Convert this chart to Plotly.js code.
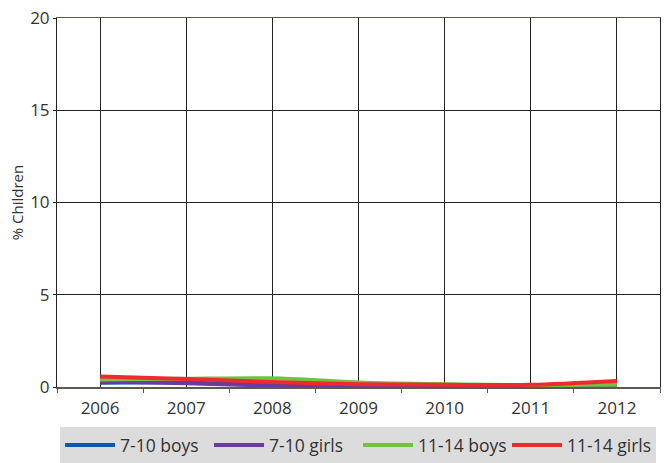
<!DOCTYPE html>
<html><head><meta charset="utf-8">
<script src="https://cdn.plot.ly/plotly-3.0.1.min.js"></script>
<style>html,body{margin:0;padding:0;background:#fff}</style>
</head><body>
<div id="chart" style="width:667px;height:463px"></div>
<script>
const years = [2006, 2007, 2008, 2009, 2010, 2011, 2012];
const seriesNames = ["7-10 boys", "7-10 girls", "11-14 boys", "11-14 girls"];
const boys7to10 = [0.23, 0.25, 0.10, 0.03, 0.02, 0.02, 0.05];
const girls7to10 = [0.30, 0.20, 0.08, 0.01, 0.01, 0.02, 0.05];
const boys11to14 = [0.40, 0.45, 0.47, 0.25, 0.15, 0.10, 0.12];
const girls11to14 = [0.57, 0.43, 0.27, 0.15, 0.12, 0.12, 0.33];
const colors = ["#0f58a8", "#6a3b9c", "#74c043", "#ee2a30"];
const yTicks = [0, 5, 10, 15, 20];

const allSeries = [boys7to10, girls7to10, boys11to14, girls11to14];
const traces = allSeries.map((vals, i) => ({
  x: years, y: vals, name: seriesNames[i], type: "scatter", mode: "lines",
  line: {color: colors[i], width: 4, shape: "spline", smoothing: 0.8},
  hoverinfo: "skip"
}));

const font = {family: "Open Sans, Noto Sans, sans-serif", color: "#333", size: 17};
const layout = {
  width: 667, height: 463,
  margin: {l: 57, r: 7, t: 18, b: 76},
  paper_bgcolor: "#fff", plot_bgcolor: "#fff",
  font: font,
  showlegend: true,
  xaxis: {
    type: "linear", range: [2005.5, 2012.5],
    tickvals: years, ticktext: years.map(String),
    ticks: "", showgrid: true, gridcolor: "#222", gridwidth: 1,
    showline: true, linecolor: "#5a5a50", linewidth: 1.5, mirror: true,
    zeroline: false, tickfont: {size: 17, color: "#333"},
    ticklabelstandoff: 5,
    minor: {tick0: 2005.5, dtick: 1, ticks: "outside", ticklen: 4, tickcolor: "#5a5a50", showgrid: false},
    fixedrange: true, automargin: false
  },
  yaxis: {
    range: [0, 20], tickvals: yTicks, ticktext: yTicks.map(String),
    ticks: "outside", ticklen: 3, tickcolor: "#222",
    showgrid: true, gridcolor: "#222", gridwidth: 1,
    showline: true, linecolor: "#222", linewidth: 1, mirror: true,
    zeroline: false, tickfont: {size: 17, color: "#333"},
    title: {text: "% Children", font: {size: 15, color: "#333"}, standoff: 2},
    fixedrange: true, automargin: false
  },
  legend: {
    orientation: "h", xref: "container", yref: "container",
    x: 0.09, xanchor: "left", y: -0.005, yanchor: "bottom",
    bgcolor: "#dcdcdd", borderwidth: 0,
    font: {size: 17.5, color: "#333"},
    itemwidth: 50, entrywidth: 84, tracegroupgap: 0,
    traceorder: "normal"
  }
};
Plotly.newPlot("chart", traces, layout, {displayModeBar: false, staticPlot: true});
</script>
</body></html>
